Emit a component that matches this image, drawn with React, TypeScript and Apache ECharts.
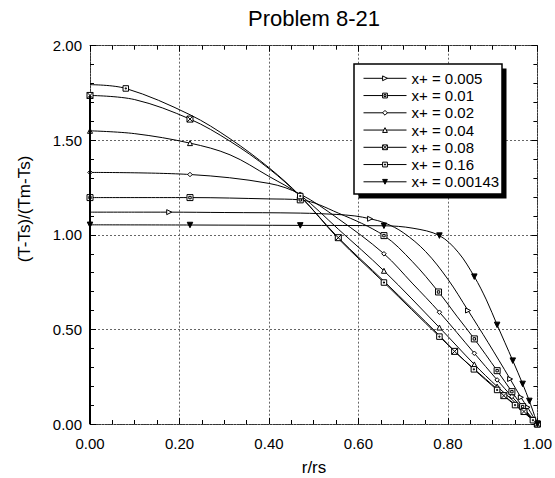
import React, { useEffect, useRef } from 'react';
import * as echarts from 'echarts';

// [r/rs, (T-Ts)/(Tm-Ts), marker shown (1) or not (0)]
type Pt = [number, number, number];

const title = 'Problem 8-21';
const xName = 'r/rs';
const yName = '(T-Ts)/(Tm-Ts)';

const seriesNames = [
  'x+ = 0.005',
  'x+ = 0.01',
  'x+ = 0.02',
  'x+ = 0.04',
  'x+ = 0.08',
  'x+ = 0.16',
  'x+ = 0.00143',
];

const s005: Pt[] = [
  [0, 1.12, 0], [0.1, 1.12, 0], [0.177, 1.12, 1], [0.3, 1.118, 0], [0.47, 1.115, 0],
  [0.55, 1.108, 0], [0.592, 1.1, 0], [0.626, 1.085, 1], [0.66, 1.062, 0], [0.7, 1.012, 0],
  [0.75, 0.912, 0], [0.8, 0.765, 0], [0.845, 0.6, 1], [0.89, 0.43, 0], [0.939, 0.238, 1],
  [0.963, 0.141, 1], [0.978, 0.088, 1], [1.0, 0, 1],
];

const s01: Pt[] = [
  [0, 1.197, 1], [0.2235, 1.197, 1], [0.4, 1.19, 0], [0.47, 1.185, 1], [0.555, 1.115, 0],
  [0.657, 0.996, 1], [0.72, 0.86, 0], [0.779, 0.698, 1], [0.82, 0.57, 0], [0.859, 0.45, 1],
  [0.91, 0.282, 1], [0.943, 0.171, 1], [0.967, 0.092, 1], [1.0, 0, 1],
];

const s02: Pt[] = [
  [0, 1.33, 1], [0.2235, 1.319, 1], [0.4, 1.272, 0], [0.47, 1.215, 1], [0.555, 1.085, 0],
  [0.657, 0.9, 1], [0.72, 0.745, 0], [0.781, 0.591, 1], [0.859, 0.374, 1], [0.91, 0.233, 1],
  [0.943, 0.145, 1], [0.97, 0.075, 0], [1.0, 0, 1],
];

const s04: Pt[] = [
  [0, 1.55, 1], [0.1, 1.535, 0], [0.2235, 1.485, 1], [0.313, 1.423, 0], [0.4, 1.309, 0],
  [0.47, 1.21, 1], [0.555, 1.03, 0], [0.657, 0.81, 1], [0.781, 0.51, 1], [0.859, 0.315, 1],
  [0.91, 0.198, 1], [0.945, 0.125, 0], [1.0, 0, 1],
];

const s08: Pt[] = [
  [0, 1.737, 1], [0.1, 1.715, 0], [0.2235, 1.612, 1], [0.313, 1.495, 0], [0.4, 1.35, 0],
  [0.47, 1.203, 0], [0.555, 0.985, 1], [0.657, 0.755, 0], [0.781, 0.468, 0], [0.815, 0.384, 1],
  [0.858, 0.292, 0], [0.91, 0.185, 0], [0.925, 0.15, 1], [0.97, 0.066, 1], [1.0, 0, 1],
];

const s16: Pt[] = [
  [0, 1.794, 0], [0.08, 1.774, 1], [0.2235, 1.635, 0], [0.313, 1.508, 0], [0.4, 1.355, 0],
  [0.47, 1.205, 1], [0.555, 0.98, 0], [0.657, 0.748, 1], [0.781, 0.462, 1], [0.858, 0.289, 1],
  [0.91, 0.18, 1], [0.925, 0.148, 0], [0.95, 0.1, 1], [0.99, 0.02, 1], [1.0, 0, 0],
];

const s00143: Pt[] = [
  [0, 1.053, 1], [0.2235, 1.052, 1], [0.47, 1.05, 1], [0.657, 1.048, 1], [0.722, 1.035, 0],
  [0.781, 0.996, 1], [0.823, 0.908, 0], [0.859, 0.779, 1], [0.886, 0.656, 0], [0.91, 0.524, 1],
  [0.945, 0.335, 1], [0.967, 0.212, 1], [0.982, 0.122, 1], [1.0, 0, 1],
];

const seriesData: Pt[][] = [s005, s01, s02, s04, s08, s16, s00143];

const xMin = 0, xMax = 1, xStep = 0.2;
const yMin = 0, yMax = 2, yStep = 0.5;

const FONT = '"Liberation Sans", Arial, Helvetica, sans-serif';
const SQX = 'path://M0,0H10V10H0Z M0,0L10,10 M10,0L0,10';
const SQD = 'path://M0,0H10V10H0Z M3,3H7V7H3Z';
const SQD2 = 'path://M0,0H10V10H0Z M4,4H6V6H4Z';

const markerStyles = [
  { symbol: 'triangle', size: 5, rotate: -90, fill: '#fff' },
  { symbol: SQD, size: 6, rotate: 0, fill: '#fff' },
  { symbol: 'diamond', size: 4.5, rotate: 0, fill: '#fff' },
  { symbol: 'triangle', size: 5, rotate: 0, fill: '#fff' },
  { symbol: SQX, size: 6, rotate: 0, fill: '#fff' },
  { symbol: SQD2, size: 5.5, rotate: 0, fill: '#fff' },
  { symbol: 'triangle', size: 5.5, rotate: 180, fill: '#000' },
];

export default function App() {
  const ref = useRef<HTMLDivElement>(null);
  useEffect(() => {
    if (!ref.current) return;
    const chart = echarts.init(ref.current, null, { renderer: 'svg' });
    const fmt = (v: number) => v.toFixed(2);
    const axisLineStyle = { color: '#333', width: 1, type: [2, 1] as number[] };
    const tickStyle = { color: '#000', width: 1 };
    const splitStyle = { color: '#666', width: 1, type: [2, 2] as number[] };

    const series: any[] = seriesData.map((pts, i) => {
      const m = markerStyles[i];
      const s: any = {
        type: 'line',
        name: seriesNames[i],
        data: pts.map((p) => ({ value: [p[0], p[1]], symbol: p[2] ? m.symbol : 'none' })),
        symbol: m.symbol,
        symbolSize: m.size,
        symbolRotate: m.rotate,
        showSymbol: true,
        smooth: 0.35,
        clip: false,
        lineStyle: { color: '#000', width: 1 },
        itemStyle: { color: m.fill, borderColor: '#000', borderWidth: 1 },
        emphasis: { disabled: true },
        silent: true,
        z: 2,
      };
      if (pts === s08) {
        s.markLine = {
          silent: true,
          symbol: 'none',
          label: { show: false },
          lineStyle: { color: '#000', width: 2, type: 'solid' },
          data: [[{ coord: [xMin, yMin] }, { coord: [xMin, s08[0][1]] }]],
        };
      }
      return s;
    });

    const option: any = {
      animation: false,
      backgroundColor: '#fff',
      grid: { left: 90, right: 17.5, top: 45.7, bottom: 54, containLabel: false },
      xAxis: [
        {
          type: 'value', min: xMin, max: xMax, interval: xStep, position: 'bottom',
          axisLine: { show: true, onZero: false, lineStyle: axisLineStyle },
          axisTick: { show: true, inside: true, length: 6, lineStyle: tickStyle },
          minorTick: { show: true, splitNumber: 4, length: 4, lineStyle: tickStyle },
          axisLabel: { show: true, margin: 11.5, fontSize: 15, color: '#000', fontFamily: FONT, formatter: fmt },
          splitLine: { show: true, lineStyle: splitStyle },
        },
        {
          type: 'value', min: xMin, max: xMax, interval: xStep, position: 'top',
          axisLine: { show: true, onZero: false, lineStyle: axisLineStyle },
          axisTick: { show: true, inside: true, length: 6, lineStyle: tickStyle },
          minorTick: { show: true, splitNumber: 4, length: 4, lineStyle: tickStyle },
          axisLabel: { show: false },
          splitLine: { show: false },
        },
      ],
      yAxis: [
        {
          type: 'value', min: yMin, max: yMax, interval: yStep, position: 'left',
          axisLine: { show: true, onZero: false, lineStyle: axisLineStyle },
          axisTick: { show: true, inside: true, length: 6, lineStyle: tickStyle },
          minorTick: { show: true, splitNumber: 5, length: 4, lineStyle: tickStyle },
          axisLabel: { show: true, margin: 8, fontSize: 15, color: '#000', fontFamily: FONT, formatter: fmt },
          splitLine: { show: true, lineStyle: splitStyle },
        },
        {
          type: 'value', min: yMin, max: yMax, interval: yStep, position: 'right',
          axisLine: { show: true, onZero: false, lineStyle: axisLineStyle },
          axisTick: { show: true, inside: true, length: 6, lineStyle: tickStyle },
          minorTick: { show: true, splitNumber: 5, length: 4, lineStyle: tickStyle },
          axisLabel: { show: false },
          splitLine: { show: false },
        },
      ],
      legend: {
        orient: 'vertical',
        left: 363,
        top: 70.8,
        padding: 0,
        itemWidth: 43,
        itemHeight: 6,
        itemGap: 2.25,
        selectedMode: false,
        data: seriesNames.map((name, i) => ({
          name,
          itemStyle: { color: markerStyles[i].fill, borderColor: '#000', borderWidth: 1 },
          lineStyle: { color: '#000', width: 1 },
        })),
        textStyle: { fontSize: 15, lineHeight: 15, color: '#000', fontFamily: FONT },
        z: 5,
      },
      graphic: [
        { type: 'rect', z: 3, silent: true, shape: { x: 358.5, y: 68.5, width: 148, height: 130 }, style: { fill: '#000' } },
        { type: 'rect', z: 3, silent: true, shape: { x: 354, y: 64, width: 148, height: 130 }, style: { fill: '#fff', stroke: '#000', lineWidth: 1.5 } },
        { type: 'text', z: 5, silent: true, x: 314, y: 18.5, style: { text: title, fontSize: 22, fontFamily: FONT, fill: '#000', textAlign: 'center', textVerticalAlign: 'middle' } },
        { type: 'text', z: 5, silent: true, x: 314, y: 467, style: { text: xName, fontSize: 17, fontFamily: FONT, fill: '#000', textAlign: 'center', textVerticalAlign: 'middle' } },
        { type: 'text', z: 5, silent: true, x: 24, y: 209, rotation: Math.PI / 2, style: { text: yName, fontSize: 17, fontFamily: FONT, fill: '#000', textAlign: 'center', textVerticalAlign: 'middle' } },
      ],
      series,
    };
    chart.setOption(option);
    return () => chart.dispose();
  }, []);
  return <div ref={ref} style={{ width: 555, height: 478, position: 'absolute', left: 0, top: 0, background: '#fff' }} />;
}
